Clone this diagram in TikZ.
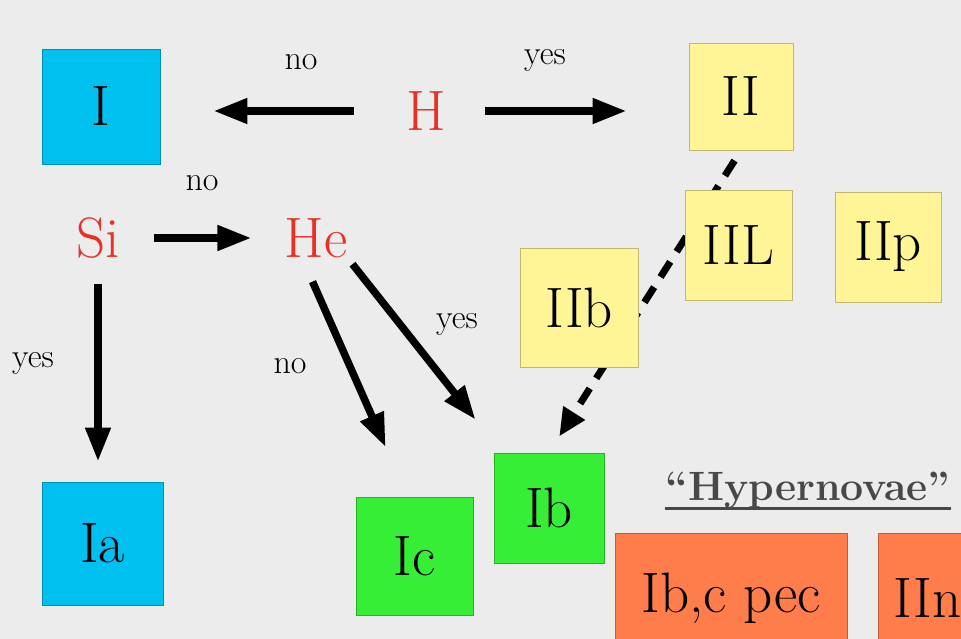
\documentclass[tikz,border=0pt]{standalone}
\usepackage{fontspec}
\usetikzlibrary{arrows.meta}
\pgfdeclarelayer{back}
\pgfsetlayers{back,main}
\definecolor{bg}{RGB}{236,236,236}
\definecolor{sblue}{RGB}{0,192,240}
\definecolor{syellow}{RGB}{255,245,150}
\definecolor{sgreen}{RGB}{55,238,55}
\definecolor{sorange}{RGB}{255,125,75}
\definecolor{sred}{RGB}{232,48,38}
\definecolor{hgray}{RGB}{72,72,72}
\newcommand\bigtxt{\fontsize{57pt}{57pt}\selectfont}
\newcommand\smalltxt{\fontsize{34pt}{34pt}\selectfont}
\begin{document}
\begin{tikzpicture}[x=1pt,y=-1pt,
  box/.style={fill=#1, draw=#1!75!black, line width=0.8pt, inner sep=0pt, font=\bigtxt, text=black},
  elem/.style={inner sep=0pt, font=\bigtxt, text=sred},
  lbl/.style={inner sep=0pt, font=\smalltxt, text=black},
  arr/.style={line width=7.5pt, -{Triangle[length=34pt,width=24pt]}},
  darr/.style={line width=7pt, dash pattern=on 18pt off 12pt, -{Triangle[length=28pt,width=24pt]}},
  uline/.style={line width=3pt, hgray}]
\clip (0,0) rectangle (961,639);
% boxes
\node[box=sblue, minimum width=118pt, minimum height=115pt] (I) at (101,106.5) {I};
\node[box=syellow, minimum width=104pt, minimum height=107pt] (II) at (741,96.5) {II};
\node[box=syellow, minimum width=107pt, minimum height=110pt] (IIL) at (738.5,245) {IIL};
\node[box=syellow, minimum width=106pt, minimum height=110pt] (IIp) at (888,247) {IIp};
\node[box=syellow, minimum width=118pt, minimum height=119pt] (IIb) at (579,307.5) {IIb};
\node[box=sblue, minimum width=121pt, minimum height=123pt] (Ia) at (102.5,543.5) {Ia};
\node[box=sgreen, minimum width=117pt, minimum height=118pt] (Ic) at (414.5,556) {Ic};
\node[box=sgreen, minimum width=110pt, minimum height=110pt] (Ib) at (549,508) {Ib};
\node[box=sorange, minimum width=232pt, minimum height=130pt] (Ibc) at (731,598) {Ib,c pec};
\node[box=sorange, minimum width=122pt, minimum height=130pt, anchor=west] (IIn) at (878,598) {\hspace*{-12pt}IIn\hspace*{12pt}};
% element labels
\node[elem] (H) at (426,111) {H};
\node[elem] (Si) at (98,238) {Si};
\node[elem] (He) at (316,238) {He};
% small labels
\node[lbl] (l1) at (301,62) {no};
\node[lbl] (l2) at (545,60) {yes};
\node[lbl] (l3) at (202,183) {no};
\node[lbl] (l4) at (33,363) {yes};
\node[lbl] (l5) at (290,366) {no};
\node[lbl] (l6) at (457,324) {yes};
% hypernovae
\node[inner sep=0pt, font=\fontsize{41pt}{41pt}\selectfont\bfseries, text=hgray, anchor=base] (hyp) at (808,500) {``Hypernovae''};
\draw[uline] ([yshift=-8pt]hyp.base west) -- ([yshift=-8pt]hyp.base east);
% arrows
\draw[arr, shorten <=52pt, shorten >=53pt] (H.west) -- (H.west -| I.east);
\draw[arr, shorten <=39pt, shorten >=62pt] (H.east) -- (H.east -| II.west);
\draw[arr, shorten <=34pt, shorten >=33pt] (Si.east) -- (Si.east -| He.west);
\draw[arr, shorten <=25pt, shorten >=20pt] (Si.south) -- (Si.south |- Ia.north);
\draw[arr, shorten <=26pt, shorten >=54pt] ([xshift=-14pt]He.south) -- ([xshift=-7pt]Ic.north);
\draw[arr, shorten <=8pt, shorten >=42pt] (He.south east) -- ([xshift=8pt]Ib.north west);
\begin{pgfonlayer}{back}
\fill[bg] (0,0) rectangle (961,639);
\draw[darr, shorten <=12pt, shorten >=19pt] (II.south) -- (Ib.north);
\end{pgfonlayer}
\end{tikzpicture}
\end{document}
